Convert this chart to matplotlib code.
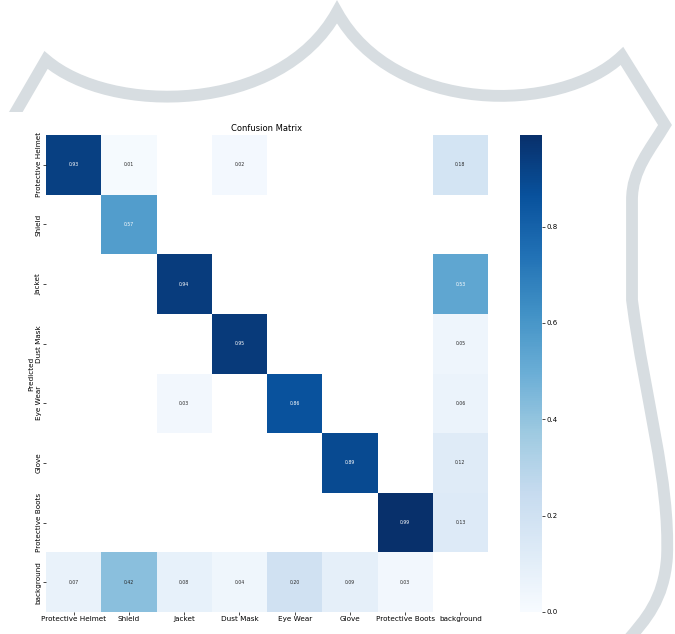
import matplotlib
matplotlib.use('Agg')
import matplotlib.pyplot as plt
from matplotlib.path import Path
from matplotlib.patches import PathPatch, Rectangle
import numpy as np
import seaborn as sns

classes = ['Protective Helmet', 'Shield', 'Jacket', 'Dust Mask', 'Eye Wear',
           'Glove', 'Protective Boots', 'background']

# rows = predicted, columns = true (0 means empty cell)
row_helmet     = [0.93, 0.01, 0.00, 0.02, 0.00, 0.00, 0.00, 0.18]
row_shield     = [0.00, 0.57, 0.00, 0.00, 0.00, 0.00, 0.00, 0.00]
row_jacket     = [0.00, 0.00, 0.94, 0.00, 0.00, 0.00, 0.00, 0.53]
row_dustmask   = [0.00, 0.00, 0.00, 0.95, 0.00, 0.00, 0.00, 0.05]
row_eyewear    = [0.00, 0.00, 0.03, 0.00, 0.86, 0.00, 0.00, 0.06]
row_glove      = [0.00, 0.00, 0.00, 0.00, 0.00, 0.89, 0.00, 0.12]
row_boots      = [0.00, 0.00, 0.00, 0.00, 0.00, 0.00, 0.99, 0.13]
row_background = [0.07, 0.42, 0.08, 0.04, 0.20, 0.09, 0.03, 0.00]

W, H = 675, 634
fig = plt.figure(figsize=(W / 100, H / 100), dpi=100)

# watermark shield behind the chart
bg = fig.add_axes([0, 0, 1, 1])
bg.set_xlim(0, W)
bg.set_ylim(H, 0)
bg.axis('off')
verts = [(10, 122), (46, 60),
         (110, 115), (280, 115), (337, 12),
         (394, 115), (560, 115), (622, 56),
         (665, 125),
         (650, 150), (632, 170), (632, 200),
         (632, 300),
         (645, 400), (670, 480), (667, 557),
         (664, 600), (645, 620), (628, 640)]
codes = [Path.MOVETO, Path.LINETO,
         Path.CURVE4, Path.CURVE4, Path.CURVE4,
         Path.CURVE4, Path.CURVE4, Path.CURVE4,
         Path.LINETO,
         Path.CURVE4, Path.CURVE4, Path.CURVE4,
         Path.LINETO,
         Path.CURVE4, Path.CURVE4, Path.CURVE4,
         Path.CURVE4, Path.CURVE4, Path.CURVE4]
bg.add_patch(PathPatch(Path(verts, codes), fill=False, edgecolor='#d7dde1',
                       lw=8.5, joinstyle='miter', capstyle='butt'))
bg.add_patch(Rectangle((0, 112), 605, H - 112, facecolor='white', edgecolor='none'))

matrix = np.array([row_helmet, row_shield, row_jacket, row_dustmask,
                   row_eyewear, row_glove, row_boots, row_background])
matrix[matrix < 0.005] = np.nan

ax = fig.add_axes([46 / W, 1 - 612 / H, 442 / W, 477 / H])
cax = fig.add_axes([520 / W, 1 - 612 / H, 22 / W, 477 / H])
sns.heatmap(matrix, ax=ax, cbar_ax=cax, annot=True, fmt='.2f', cmap='Blues',
            vmin=0.0, annot_kws={'size': 3.3}, xticklabels=classes,
            yticklabels=classes)
ax.set_facecolor('white')
ax.set_title('Confusion Matrix', fontsize=6, pad=3)
ax.set_ylabel('Predicted', fontsize=5.2, labelpad=1)
ax.tick_params(axis='both', labelsize=5.2, length=2, width=0.5, pad=1)
plt.setp(ax.get_xticklabels(), rotation=0, ha='center')
plt.setp(ax.get_yticklabels(), rotation=90, va='center')
cax.tick_params(labelsize=5, length=2, width=0.5, pad=1)

fig.savefig('out.png', dpi=100)
